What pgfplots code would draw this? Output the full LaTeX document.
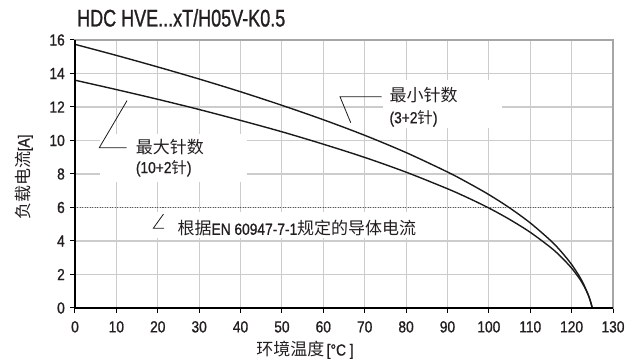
\documentclass[border=0pt]{standalone}
\usepackage{fontspec}
\setmainfont{Liberation Sans}[FakeStretch=0.86, FakeBold=1]
\newfontfamily\titlefont{Liberation Sans}[FakeStretch=0.75, FakeBold=1]
\newfontfamily\cjk{Noto Sans CJK SC}
\usepackage{pgfplots}
\usepackage{pgfplotstable}
\pgfplotsset{compat=1.18}
\definecolor{gridc}{HTML}{CCCCCC}
\definecolor{framec}{HTML}{A6A6A6}
\definecolor{txt}{HTML}{231F20}
\definecolor{curve}{HTML}{1A1A1A}

\pgfplotstableread{
T I
0 15.74
10 15.08
20 14.39
30 13.67
40 12.91
50 12.10
60 11.24
70 10.31
80 9.28
90 8.12
95 7.47
100 6.77
105 5.98
110 5.08
115 4.01
117.5 3.36
120 2.60
122 1.84
123 1.37
124 0.80
124.5 0.43
124.8 0.17
125 0
}\minpins

\pgfplotstableread{
T I
0 13.60
10 13.04
20 12.46
30 11.85
40 11.20
50 10.52
60 9.78
70 8.99
80 8.11
90 7.12
95 6.57
100 5.97
105 5.29
110 4.52
115 3.60
117.5 3.04
120 2.38
122 1.72
123 1.30
124 0.79
124.5 0.45
124.8 0.19
125 0
}\maxpins

\begin{document}
\begin{tikzpicture}
\begin{axis}[
  at={(0,0)}, anchor=south west,
  scale only axis, width=538pt, height=268pt,
  xmin=0, xmax=130, ymin=0, ymax=16,
  xtick={0,10,...,130}, ytick={0,2,...,16},
  grid=major, major grid style={gridc, line width=1.1pt},
  axis line style={framec, line width=1.1pt},
  tick pos=left, tick align=outside, major tick length=5pt,
  tick style={black, line width=1pt},
  /pgf/number format/assume math mode=true,
  ticklabel style={font=\fontsize{16}{18}\selectfont, text=txt},
  xticklabel style={anchor=north, inner sep=0pt, yshift=-8pt},
  yticklabel style={anchor=east, inner sep=0pt, xshift=-5pt},
  clip=false,
]
% white boxes behind annotations
\fill[white] (axis cs:6.04,7.52) rectangle (axis cs:41.57,10.39);
\fill[white] (axis cs:74.43,10.75) rectangle (axis cs:103.19,13.61);
\fill[white] (axis cs:17.6,4.18) rectangle (axis cs:85.8,5.73);

\addplot[line width=0.8pt, color=gray!70!black, dash pattern=on 1pt off 1.5pt] coordinates {(0,6) (130,6)};
\addplot[curve, line width=1.4pt, smooth] table[x=T, y=I] {\minpins};
\addplot[curve, line width=1.4pt, smooth] table[x=T, y=I] {\maxpins};

% left and bottom axis lines in black
\draw[black, line width=1.3pt] (rel axis cs:0,1) -- (rel axis cs:0,0) -- (rel axis cs:1,0);

% leader lines
\draw[curve, line width=0.8pt] (axis cs:74.12,12.61) -- (axis cs:64.04,12.61) -- (axis cs:66.63,11.06);
\draw[curve, line width=0.8pt] (axis cs:12.49,9.57) -- (axis cs:5.87,9.57) -- (axis cs:12.57,12.38);
\draw[curve, line width=0.8pt] (axis cs:21.39,5.61) -- (axis cs:18.92,4.76) -- (axis cs:21.51,4.76);

% annotation texts
\node[anchor=west, inner sep=0pt, text=txt] at (axis cs:75.96,12.72) {{\cjk\fontsize{17}{20}\selectfont 最小针数}};
\node[anchor=west, inner sep=0pt, text=txt] at (axis cs:75.96,11.32) {{\fontsize{16}{18}\selectfont(3+2{\cjk\fontsize{15.5}{18}\selectfont 针})}};
\node[anchor=west, inner sep=0pt, text=txt] at (axis cs:14.67,9.63) {{\cjk\fontsize{17}{20}\selectfont 最大针数}};
\node[anchor=west, inner sep=0pt, text=txt] at (axis cs:14.67,8.34) {{\fontsize{16}{18}\selectfont(10+2{\cjk\fontsize{15.5}{18}\selectfont 针})}};
\node[anchor=west, inner sep=0pt, text=txt] at (axis cs:24.73,4.76) {{\cjk\fontsize{17}{20}\selectfont 根据}{\fontsize{16}{18}\selectfont EN 60947-7-1}{\cjk\fontsize{17}{20}\selectfont 规定的导体电流}};

% title
\node[anchor=base west, inner sep=0pt, text=txt, font=\titlefont\fontsize{24}{27}\selectfont] at ([xshift=2pt,yshift=13.5pt]rel axis cs:0,1) {HDC HVE...xT/H05V-K0.5};
% axis labels
\node[rotate=90, anchor=center, inner sep=0pt, text=txt] at ([xshift=-51pt]rel axis cs:0,0.489) {{\cjk\fontsize{17}{20}\selectfont 负载电流}{\fontsize{16}{18}\selectfont[A]}};
\node[anchor=center, inner sep=0pt, text=txt] at ([yshift=-42pt]rel axis cs:0.4275,0) {{\cjk\fontsize{17}{20}\selectfont 环境温度} {\fontsize{16}{18}\selectfont[°C ]}};
\end{axis}
\pgfresetboundingbox
\path (-75pt,-53pt) rectangle (560pt,308pt);
\end{tikzpicture}
\end{document}
